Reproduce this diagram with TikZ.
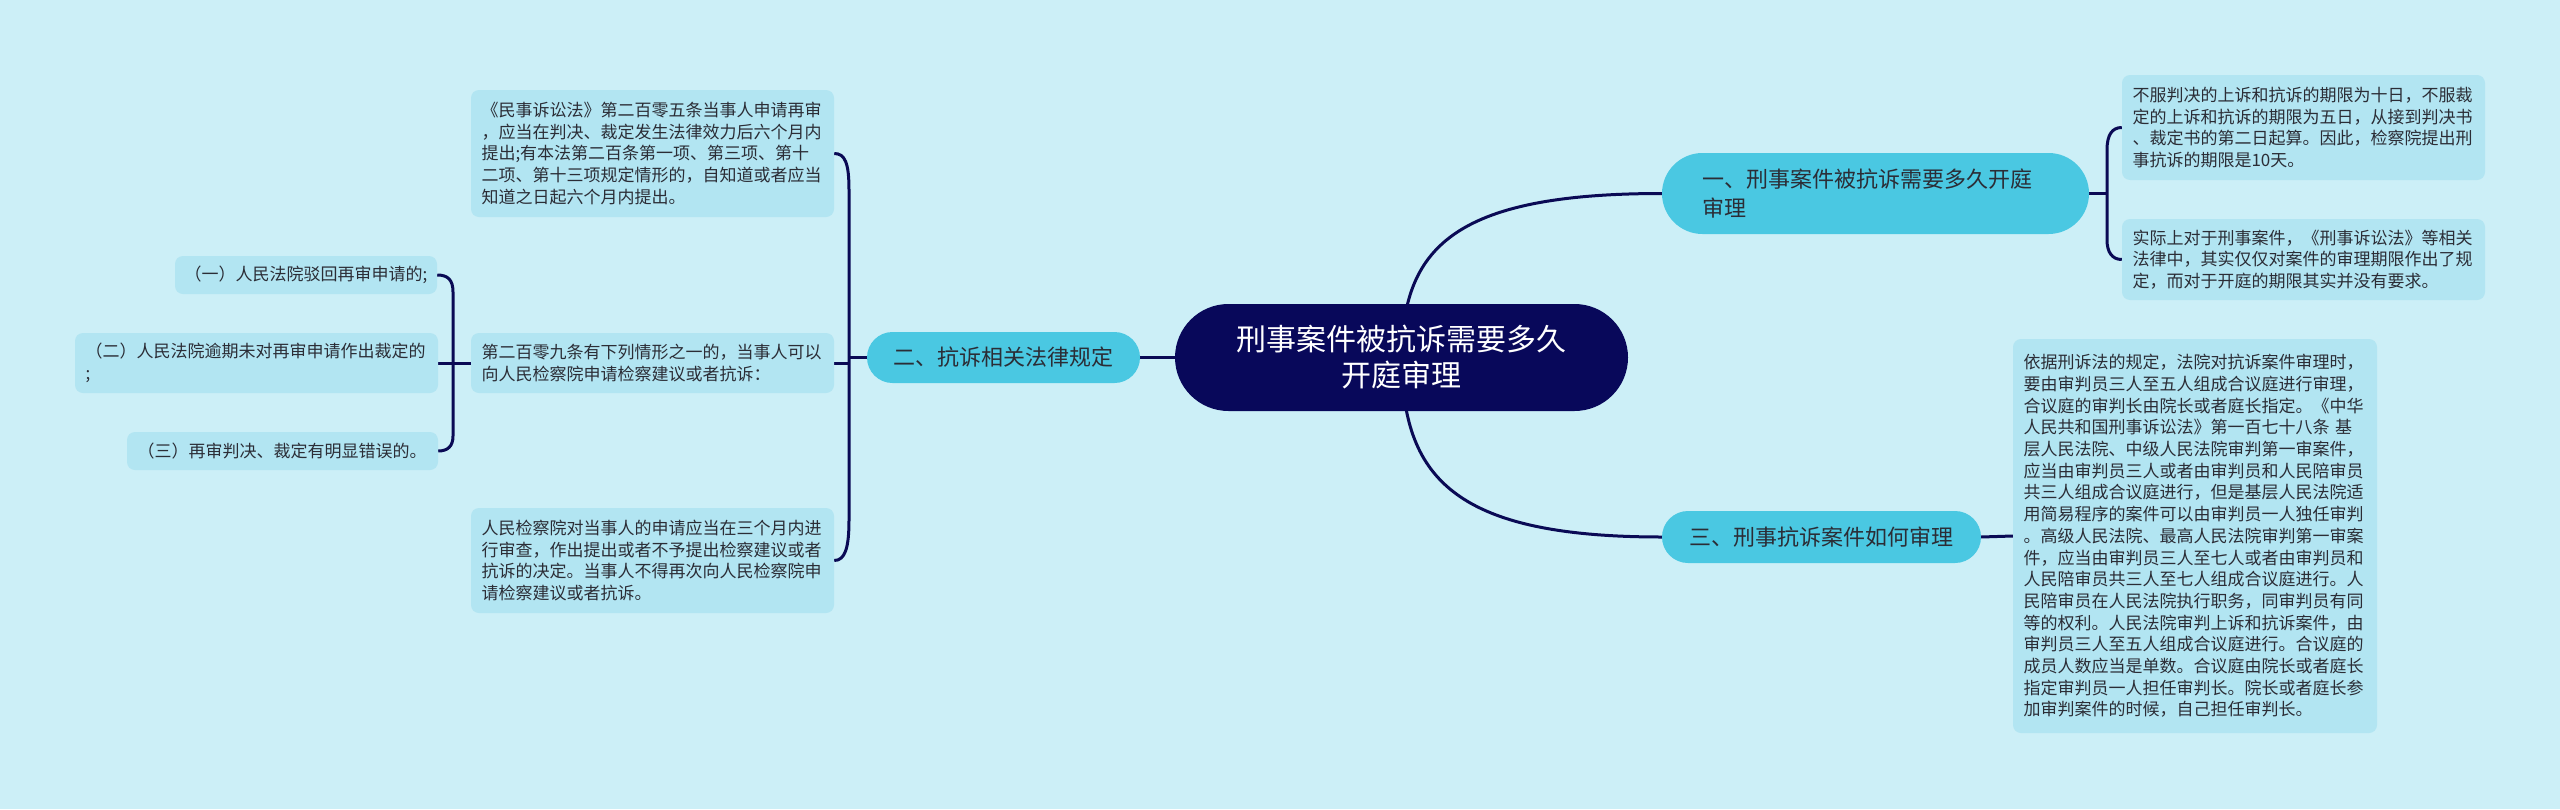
\documentclass[tikz,border=0pt]{standalone}
\usepackage{fontspec}
\setmainfont{Noto Sans CJK SC}
\definecolor{bgc}{HTML}{CCEFF7}
\definecolor{leafc}{HTML}{B2E5F2}
\definecolor{lonec}{HTML}{4AC8E2}
\definecolor{rootc}{HTML}{08085A}
\definecolor{linec}{HTML}{0A0A55}
\definecolor{txtc}{HTML}{2B2D36}
\pgfdeclarelayer{bglayer}
\pgfdeclarelayer{edgelayer}
\pgfsetlayers{bglayer,edgelayer,main}
\begin{document}
\begin{tikzpicture}[x=1pt,y=-1pt,
  leaf/.style={fill=leafc, rounded corners=8pt, inner xsep=10.5pt, inner ysep=0pt,
    align=left, text=txtc, font=\fontsize{17}{21.7}\selectfont, text width=342pt},
  lone/.style={fill=lonec, text=txtc, font=\fontsize{22}{29}\selectfont, inner sep=0pt, align=center},
  rootbox/.style={fill=rootc, text=white, font=\fontsize{30}{36}\selectfont, inner sep=0pt, align=center,
    minimum width=453pt, minimum height=107pt, rounded corners=53.5pt},
  conn/.style={draw=linec, line width=3pt}]
\begin{pgfonlayer}{bglayer}
\fill[bgc] (0,0) rectangle (2560,809);
\end{pgfonlayer}
\useasboundingbox (0,0) rectangle (2560,809);

% root
\node[rootbox] (root) at (1401.5,357.5) {刑事案件被抗诉需要多久\\开庭审理};

% level 1
\node[lone, minimum width=427pt, minimum height=81pt, rounded corners=40.5pt, inner xsep=40pt,
  text width=347pt, align=left] (n1) at (1875.5,193.5) {一、刑事案件被抗诉需要多久开庭\\审理};
\node[lone, minimum width=273pt, minimum height=51pt, rounded corners=25.5pt] (n2) at (1003.5,357.5) {二、抗诉相关法律规定};
\node[lone, minimum width=319pt, minimum height=52pt, rounded corners=26pt] (n3) at (1821.5,537) {三、刑事抗诉案件如何审理};

% leaves of n2
\node[leaf, minimum height=127pt] (la) at (652.5,153.5) {《民事诉讼法》第二百零五条当事人申请再审\\
，应当在判决、裁定发生法律效力后六个月内\\
提出;有本法第二百条第一项、第三项、第十\\
二项、第十三项规定情形的，自知道或者应当\\
知道之日起六个月内提出。};
\node[leaf, minimum height=60pt] (lb) at (652.5,363) {第二百零九条有下列情形之一的，当事人可以\\
向人民检察院申请检察建议或者抗诉：};
\node[leaf, minimum height=105pt] (lc) at (652.5,560.5) {人民检察院对当事人的申请应当在三个月内进\\
行审查，作出提出或者不予提出检察建议或者\\
抗诉的决定。当事人不得再次向人民检察院申\\
请检察建议或者抗诉。};

% leaves of lb
\node[leaf, minimum height=38pt, text width=243pt, inner xsep=9.5pt] (sa) at (306,275) {（一）人民法院驳回再审申请的;};
\node[leaf, minimum height=60pt] (sb) at (256.5,363) {（二）人民法院逾期未对再审申请作出裁定的\\;};
\node[leaf, minimum height=38pt, text width=290pt] (sc) at (282.5,451) {（三）再审判决、裁定有明显错误的。};

% leaves of n1
\node[leaf, minimum height=105pt] (ra) at (2303.5,127.5) {不服判决的上诉和抗诉的期限为十日，不服裁\\
定的上诉和抗诉的期限为五日，从接到判决书\\
、裁定书的第二日起算。因此，检察院提出刑\\
事抗诉的期限是10天。};
\node[leaf, minimum height=81pt] (rb) at (2303.5,259.5) {实际上对于刑事案件，《刑事诉讼法》等相关\\
法律中，其实仅仅对案件的审理期限作出了规\\
定，而对于开庭的期限其实并没有要求。};

% leaf of n3
\node[leaf, minimum height=394pt, text width=343pt] (rc) at (2195,536) {依据刑诉法的规定，法院对抗诉案件审理时，\\
要由审判员三人至五人组成合议庭进行审理，\\
合议庭的审判长由院长或者庭长指定。《中华\\
人民共和国刑事诉讼法》第一百七十八条 基\\
层人民法院、中级人民法院审判第一审案件，\\
应当由审判员三人或者由审判员和人民陪审员\\
共三人组成合议庭进行，但是基层人民法院适\\
用简易程序的案件可以由审判员一人独任审判\\
。高级人民法院、最高人民法院审判第一审案\\
件，应当由审判员三人至七人或者由审判员和\\
人民陪审员共三人至七人组成合议庭进行。人\\
民陪审员在人民法院执行职务，同审判员有同\\
等的权利。人民法院审判上诉和抗诉案件，由\\
审判员三人至五人组成合议庭进行。合议庭的\\
成员人数应当是单数。合议庭由院长或者庭长\\
指定审判员一人担任审判长。院长或者庭长参\\
加审判案件的时候，自己担任审判长。};

\coordinate (b2) at (849,357.5);
\coordinate (b1) at (2107,193.5);

\begin{pgfonlayer}{edgelayer}
\draw[conn] (root.center) .. controls (1403,250) and (1450,193.5) .. (n1.west);
\draw[conn] (root.center) .. controls (1403,475) and (1450,537) .. (n3.west);
\draw[conn] (root.center) -- (n2.center);
% bracket of n2
\draw[conn] (n2.west) -- (b2);
\draw[conn] (la.east) .. controls (845,153.5) and (849,163) .. (849,190) -- (849,520)
  .. controls (849,548) and (845,560.5) .. (lc.east);
\draw[conn] (lb.east) -- (lb.east -| b2);
% bracket of lb
\draw[conn] (sa.east) .. controls (448,275) and (453,280) .. (453,292) -- (453,436)
  .. controls (453,446) and (448,451) .. (sc.east);
\draw[conn] (sb.east) -- (lb.west);
% bracket of n1
\draw[conn] (n1.east) -- (b1);
\draw[conn] (ra.west) .. controls (2112,127.5) and (2107,135) .. (2107,150) -- (2107,240)
  .. controls (2107,252) and (2112,259.5) .. (rb.west);
% n3 to leaf
\draw[conn] (n3.east) -- (rc.west);
\end{pgfonlayer}
\end{tikzpicture}
\end{document}
